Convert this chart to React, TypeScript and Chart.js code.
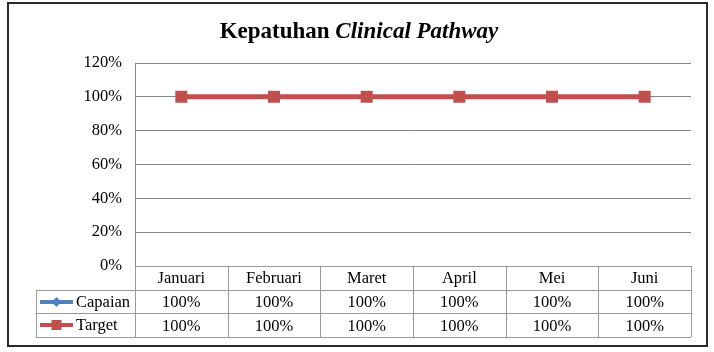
import React, { useEffect, useRef } from "react";
import { Chart, registerables } from "chart.js";

Chart.register(...registerables);

const months = ["Januari", "Februari", "Maret", "April", "Mei", "Juni"];
const capaian = [1, 1, 1, 1, 1, 1];
const target = [1, 1, 1, 1, 1, 1];
const seriesNames = ["Capaian", "Target"];
const titleNormal = "Kepatuhan ";
const titleItalic = "Clinical Pathway";

const BLUE = "#4F81BD";
const RED = "#C0504D";
const GRID = "#868686";
const FONT = "'Liberation Serif', 'Times New Roman', serif";

const pct = (v: number) => Math.round(v * 100) + "%";

const decorPlugin = {
  id: "decor",
  afterDraw(chart: any) {
    const ctx = chart.ctx as CanvasRenderingContext2D;
    const area = chart.chartArea;
    ctx.save();
    // outer border
    ctx.strokeStyle = "#2a2a2a";
    ctx.lineWidth = 2;
    ctx.strokeRect(8, 3, 699, 343);

    // title
    ctx.fillStyle = "#000";
    ctx.textBaseline = "alphabetic";
    ctx.font = "bold 23px " + FONT;
    const w1 = ctx.measureText(titleNormal).width;
    ctx.font = "italic bold 23px " + FONT;
    const w2 = ctx.measureText(titleItalic).width;
    const cx = 359;
    let x = cx - (w1 + w2) / 2;
    ctx.textAlign = "left";
    ctx.font = "bold 23px " + FONT;
    ctx.fillText(titleNormal, x, 38);
    ctx.font = "italic bold 23px " + FONT;
    ctx.fillText(titleItalic, x + w1, 38);

    // data table
    const n = months.length;
    const colW = (area.right - area.left) / n;
    const top = area.bottom;
    const rowH = 23.7;
    const legLeft = area.left - 99;
    const bottom = top + rowH * 3;
    ctx.strokeStyle = "#9a9a9a";
    ctx.lineWidth = 1;
    const hl = (x1: number, x2: number, y: number) => {
      ctx.beginPath();
      ctx.moveTo(x1, Math.round(y) + 0.5);
      ctx.lineTo(x2, Math.round(y) + 0.5);
      ctx.stroke();
    };
    const vl = (x: number, y1: number, y2: number) => {
      ctx.beginPath();
      ctx.moveTo(Math.round(x) + 0.5, y1);
      ctx.lineTo(Math.round(x) + 0.5, y2);
      ctx.stroke();
    };
    hl(area.left, area.right, top);
    hl(legLeft, area.right, top + rowH);
    hl(legLeft, area.right, top + rowH * 2);
    hl(legLeft, area.right, bottom);
    for (let i = 0; i <= n; i++) vl(area.left + colW * i, top, bottom);
    vl(legLeft, top + rowH, bottom);

    ctx.fillStyle = "#000";
    ctx.font = "16.5px " + FONT;
    ctx.textAlign = "center";
    ctx.textBaseline = "middle";
    const rows = [capaian, target];
    for (let i = 0; i < n; i++) {
      const mx = area.left + colW * (i + 0.5);
      ctx.fillText(months[i], mx, top + rowH * 0.5 + 1);
      for (let r = 0; r < rows.length; r++) {
        ctx.fillText(pct(rows[r][i]), mx, top + rowH * (r + 1.5) + 1);
      }
    }
    // legend cells
    const colors = [BLUE, RED];
    for (let r = 0; r < 2; r++) {
      const cy = Math.round(top + rowH * (r + 1.5));
      const lx1 = legLeft + 4;
      const lx2 = legLeft + 37;
      ctx.strokeStyle = colors[r];
      ctx.lineWidth = 4;
      ctx.beginPath();
      ctx.moveTo(lx1, cy);
      ctx.lineTo(lx2, cy);
      ctx.stroke();
      ctx.fillStyle = colors[r];
      const mx = (lx1 + lx2) / 2;
      if (r === 0) {
        ctx.beginPath();
        ctx.moveTo(mx, cy - 5);
        ctx.lineTo(mx + 5, cy);
        ctx.lineTo(mx, cy + 5);
        ctx.lineTo(mx - 5, cy);
        ctx.closePath();
        ctx.fill();
      } else {
        ctx.fillRect(mx - 5, cy - 5, 10, 10);
      }
      ctx.fillStyle = "#000";
      ctx.textAlign = "left";
      ctx.fillText(seriesNames[r], lx2 + 3, cy + 1);
    }
    ctx.restore();
  },
};

export default function App() {
  const ref = useRef<HTMLCanvasElement>(null);
  useEffect(() => {
    if (!ref.current) return;
    const chart = new Chart(ref.current, {
      type: "line",
      data: {
        labels: months,
        datasets: [
          {
            label: seriesNames[0],
            data: capaian,
            borderColor: BLUE,
            backgroundColor: BLUE,
            borderWidth: 3,
            pointStyle: "rectRot",
            pointRadius: 5,
            pointBorderWidth: 0,
            order: 1,
          },
          {
            label: seriesNames[1],
            data: target,
            borderColor: RED,
            backgroundColor: RED,
            borderWidth: 5,
            pointStyle: "rect",
            pointRadius: 8.5,
            pointBorderWidth: 0,
            order: 0,
          },
        ],
      },
      options: {
        responsive: false,
        animation: false,
        devicePixelRatio: 1,
        layout: { padding: { left: 0, right: 23, top: 63, bottom: 86 } },
        plugins: {
          legend: { display: false },
          tooltip: { enabled: false },
          title: { display: false },
        },
        scales: {
          x: { display: false, offset: true },
          y: {
            min: 0,
            max: 1.2,
            afterFit: (s: any) => {
              s.width = 135;
            },
            ticks: {
              stepSize: 0.2,
              padding: 13,
              color: "#000",
              font: { family: FONT, size: 16.5 },
              callback: (v: any) => pct(Number(v)),
            },
            grid: { color: GRID, drawTicks: false, lineWidth: 1 },
            border: { color: GRID, width: 1 },
          },
        },
      },
      plugins: [decorPlugin],
    });
    return () => chart.destroy();
  }, []);
  return (
    <div style={{ position: "absolute", left: 0, top: 0, width: 714, height: 352, background: "#fff" }}>
      <canvas ref={ref} width={714} height={352} style={{ display: "block" }} />
    </div>
  );
}
